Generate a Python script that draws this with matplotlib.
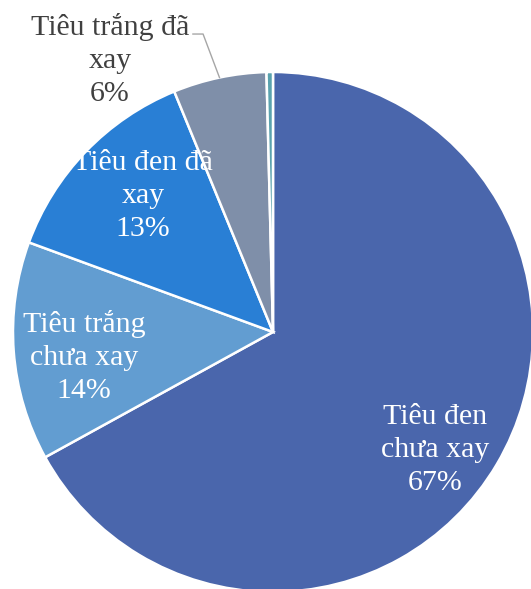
import numpy as np
import matplotlib.pyplot as plt

labels = ['Tiêu đen\nchưa xay', 'Tiêu trắng\nchưa xay', 'Tiêu đen đã\nxay', 'Tiêu trắng đã\nxay', '']
values = [67.0, 13.6, 13.2, 5.8, 0.4]
colors = ['#4A66AC', '#629DD1', '#297FD5', '#7F8FA9', '#5AA2AE']

# label centres (data units, pie radius = 1)
label_pos = [(0.623, -0.454), (-0.727, -0.096), (-0.500, 0.523), (-0.627, 1.046)]
label_col = ['white', 'white', 'white', '#404040']

plt.rcParams['font.family'] = ['Liberation Serif', 'DejaVu Serif']

fig = plt.figure(figsize=(5.31, 5.89), dpi=100)
ax = fig.add_axes([0, 0, 1, 1])
wedges, _ = ax.pie(values, colors=colors, startangle=90, counterclock=False,
                   wedgeprops=dict(edgecolor='white', linewidth=1.8))

for i in range(4):
    txt = labels[i] + '\n' + '{:.0f}%'.format(values[i])
    ax.text(label_pos[i][0], label_pos[i][1], txt, ha='center', va='center',
            color=label_col[i], fontsize=21.5, linespacing=1.36)

# leader line for the small outside label
w = wedges[3]
mid = np.deg2rad((w.theta1 + w.theta2) / 2)
ex, ey = np.cos(mid), np.sin(mid)
ax.plot([-0.308, -0.269, ex], [1.146, 1.146, ey], color='#a6a6a6', lw=1.0)

ax.set_xlim(-1.05, 0.9923)
ax.set_ylim(-0.9885, 1.2769)
ax.set_aspect('auto')
ax.axis('off')

fig.savefig('out.png', dpi=100)
